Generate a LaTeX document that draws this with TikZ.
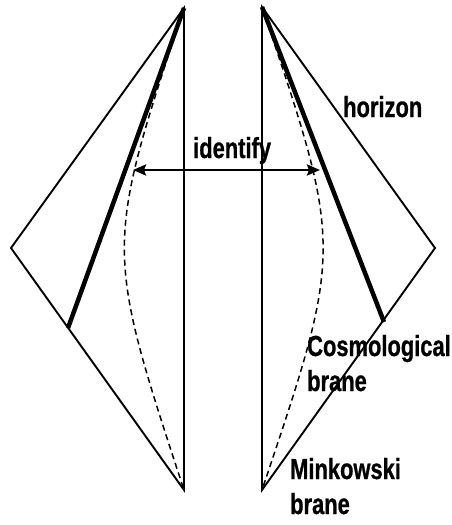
\documentclass[tikz,border=0pt]{standalone}
\usepackage{fontspec}
\setmainfont{Liberation Sans}
\newfontfamily\labfont{Liberation Sans}[FakeStretch=0.755, BoldFeatures={FakeBold=0.8}]
\usetikzlibrary{arrows.meta}
\tikzset{mytip/.tip={Stealth[length=13pt,width=11pt,inset=2pt]}}
\begin{document}
\begin{tikzpicture}[x=1pt,y=-1pt,
  thinline/.style={line width=1.9pt},
  thickline/.style={line width=4.5pt},
  dashcurve/.style={line width=1.5pt, dash pattern=on 6pt off 4pt},
  lab/.style={font=\labfont\bfseries\fontsize{29}{33}\selectfont, inner sep=0pt, anchor=base west},
  idarrow/.style={line width=2.5pt, mytip-mytip}]
\useasboundingbox (0,0) rectangle (451,525);
% left diagram
\coordinate (LT) at (184,8);
\coordinate (LB) at (184,490);
\coordinate (LL) at (11,248);
\coordinate (LC) at (68,328);
\coordinate (LK) at (104.5,248);
% right diagram
\coordinate (RT) at (262,7);
\coordinate (RB) at (262,490);
\coordinate (RR) at (435,248);
\coordinate (RC) at (384,322);
\coordinate (RK) at (343.5,248);
% arrow ends
\coordinate (AL) at (133,170);
\coordinate (AR) at (320,170);

\draw[thinline] (LT) -- (LL) -- (LB) -- cycle;
\draw[thickline] (LT) -- (LC);
\draw[dashcurve] (LT) .. controls (LK) .. (LB);

\draw[thinline] (RT) -- (RR) -- (RB) -- cycle;
\draw[thickline] (RT) -- (RC);
\draw[dashcurve] (RT) .. controls (RK) .. (RB);

\draw[idarrow] (AL) -- (AR);

\node[lab] (identify) at (193,158) {identify};
\node[lab] (horizon) at (343,117) {horizon};
\node[lab] (cosmo) at (307,356) {Cosmological};
\node[lab] (cosmob) at (307,391) {brane};
\node[lab] (mink) at (290,479) {Minkowski};
\node[lab] (minkb) at (290,514) {brane};
\end{tikzpicture}
\end{document}
